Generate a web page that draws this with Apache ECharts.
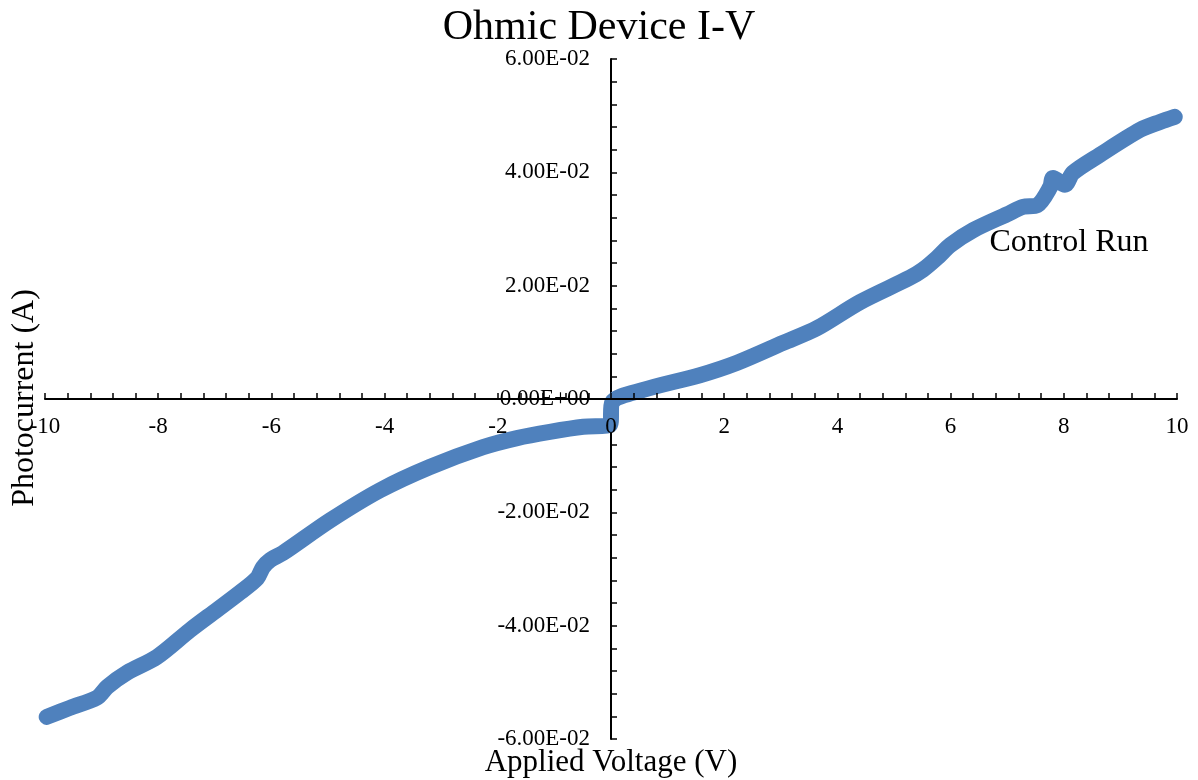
<!DOCTYPE html>
<html>
<head>
<meta charset="utf-8">
<script src="https://cdn.jsdelivr.net/npm/echarts@6/dist/echarts.min.js"></script>
<style>html,body{margin:0;padding:0;background:#fff}#c{width:1198px;height:780px}</style>
</head>
<body>
<div id="c"></div>
<script>
const titleText = 'Ohmic Device I-V';
const xName = 'Applied Voltage (V)';
const yName = 'Photocurrent (A)';
const seriesName = 'Control Run';
const voltage = [-9.97,-9.56,-9.08,-8.90,-8.55,-8.02,-7.44,-6.96,-6.55,-6.25,-6.15,-6.02,-5.80,-4.96,-4.08,-3.20,-2.26,-1.66,-1.08,-0.49,-0.02,
  0.02,0.57,1.57,2.23,3.04,3.64,4.40,5.28,5.51,5.76,6.00,6.40,7.00,7.28,7.53,7.76,7.81,8.02,8.16,8.64,9.35,9.70,9.96];
const current = [-0.0561,-0.0545,-0.0527,-0.0508,-0.0483,-0.0455,-0.0408,-0.0372,-0.0341,-0.0316,-0.0297,-0.0284,-0.0272,-0.0214,-0.0161,-0.0120,-0.0085,-0.0069,-0.0058,-0.0049,-0.0046,
  -0.0006,0.0016,0.0042,0.0064,0.0099,0.0125,0.0171,0.0214,0.0228,0.0249,0.0272,0.0298,0.0326,0.0339,0.0342,0.0374,0.0390,0.0378,0.0399,0.0431,0.0475,0.0489,0.0498];

const data = voltage.map((v, i) => [v, current[i]]);
const FONT = '"Liberation Serif","Times New Roman",serif';

function sci(v) {
  if (Math.abs(v) < 1e-12) return '0.00E+00';
  const s = v.toExponential(2);
  const parts = s.split('e');
  const e = parseInt(parts[1], 10);
  const sign = e < 0 ? '-' : '+';
  const n = Math.abs(e);
  return parts[0] + 'E' + sign + (n < 10 ? '0' : '') + n;
}

const GL = 45, GR = 21, GT = 59, GB = 41, W = 1198, H = 780;
const gridW = W - GL - GR, gridH = H - GT - GB;

const chart = echarts.init(document.getElementById('c'));
chart.setOption({
  animation: false,
  backgroundColor: '#ffffff',
  title: {
    text: titleText, left: 'center', top: 2,
    textStyle: { fontFamily: FONT, fontSize: 42, fontWeight: 'normal', color: '#000' }
  },
  grid: { left: GL, right: GR, top: GT, bottom: GB, containLabel: false, outerBoundsMode: 'none' },
  xAxis: {
    type: 'value', min: -10, max: 10, interval: 2,
    position: 'bottom', offset: -gridH / 2, z: 5,
    axisLine: { onZero: false, lineStyle: { color: '#000', width: 2 } },
    axisTick: { inside: true, length: 6, lineStyle: { color: '#000', width: 1.5 } },
    minorTick: { show: true, splitNumber: 5, length: 6, lineStyle: { color: '#000', width: 1.5 } },
    splitLine: { show: false },
    axisLabel: { margin: 16, fontFamily: FONT, fontSize: 23, color: '#000', formatter: v => String(v) }
  },
  yAxis: {
    type: 'value', min: -0.06, max: 0.06, interval: 0.02,
    position: 'left', offset: -gridW / 2,
    axisLine: { onZero: false, lineStyle: { color: '#000', width: 2 } },
    axisTick: { inside: true, length: 6, lineStyle: { color: '#000', width: 1.5 } },
    minorTick: { show: true, splitNumber: 5, length: 6, lineStyle: { color: '#000', width: 1.5 } },
    splitLine: { show: false },
    axisLabel: { margin: 21, fontFamily: FONT, fontSize: 23, color: '#000', formatter: sci }
  },
  series: [{
    name: seriesName,
    type: 'line',
    data: data,
    showSymbol: false,
    symbol: 'none',
    smooth: 0.3,
    lineStyle: { color: '#4F81BD', width: 16, cap: 'round', join: 'round' },
    itemStyle: { color: '#4F81BD' },
    z: 2
  }],
  graphic: [
    { type: 'text', x: 25, y: 398, rotation: Math.PI / 2,
      style: { text: yName, font: '32px ' + FONT, fill: '#000', textAlign: 'center', textVerticalAlign: 'middle' } },
    { type: 'text', x: 611, y: 763,
      style: { text: xName, font: '31px ' + FONT, fill: '#000', textAlign: 'center', textVerticalAlign: 'middle' } },
    { type: 'text', x: 1069, y: 243,
      style: { text: seriesName, font: '32px ' + FONT, fill: '#000', textAlign: 'center', textVerticalAlign: 'middle' } }
  ]
});
</script>
</body>
</html>
